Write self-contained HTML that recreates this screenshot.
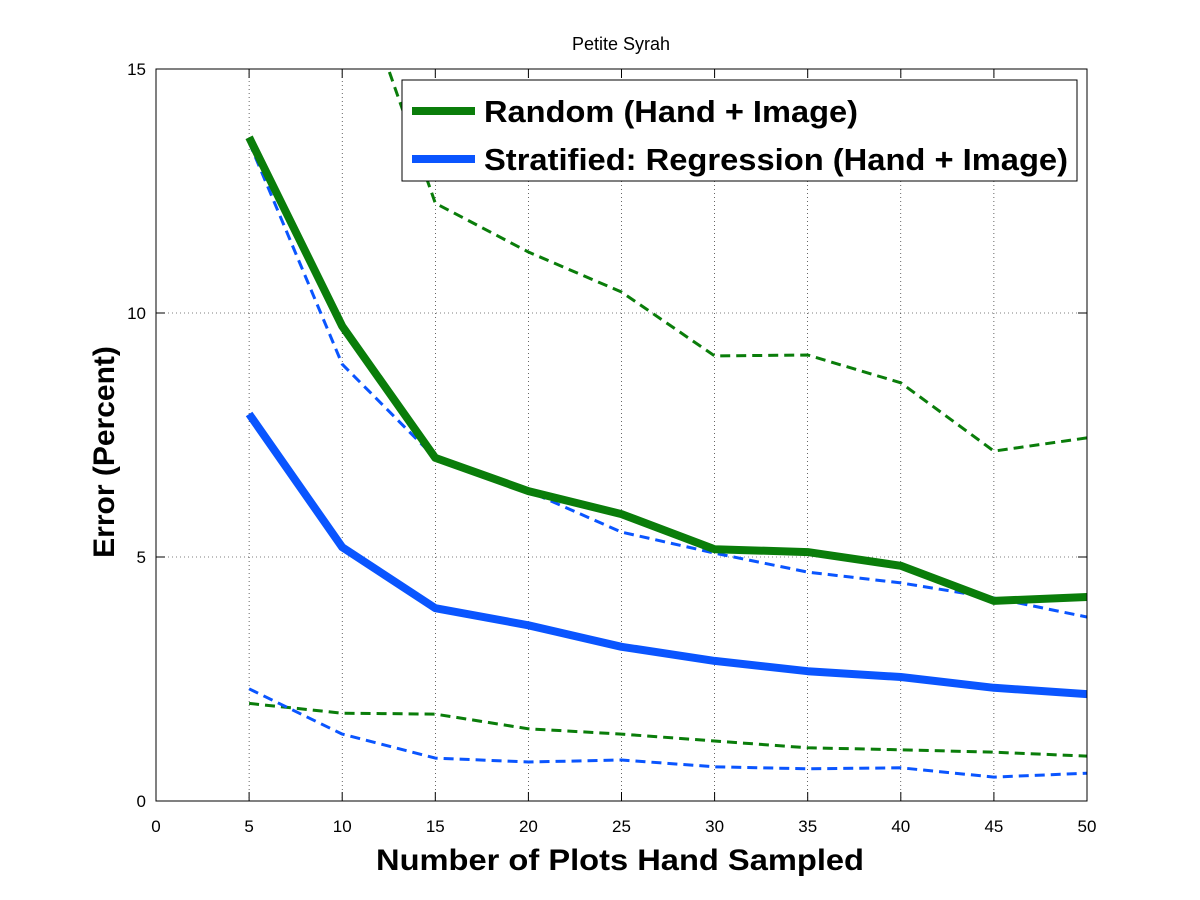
<!DOCTYPE html>
<html><head><meta charset="utf-8"><style>
html,body{margin:0;padding:0;background:#fff;}
svg{display:block;font-family:"Liberation Sans",sans-serif;}
</style></head><body>
<svg id="chart" width="1200" height="900">
<defs><clipPath id="plotclip"><rect x="156" y="69" width="931" height="732"/></clipPath></defs>
<rect x="0" y="0" width="1200" height="900" fill="#fff"/>
<text x="621" y="50" text-anchor="middle" font-size="18">Petite Syrah</text>
<g id="grid"></g>
<g id="series" clip-path="url(#plotclip)"></g>
<rect x="156" y="69" width="931" height="732" fill="none" stroke="#000" stroke-width="1"/>
<g id="ticks"></g>
<text x="376" y="870" textLength="488" lengthAdjust="spacingAndGlyphs" font-size="30" font-weight="bold">Number of Plots Hand Sampled</text>
<text transform="translate(114,452) rotate(-90)" text-anchor="middle" font-size="30" font-weight="bold">Error (Percent)</text>
<g>
<rect x="402" y="80" width="675" height="101" fill="#fff" stroke="#000" stroke-width="1"/>
<line x1="412" y1="111" x2="475" y2="111" stroke="#0a7d0a" stroke-width="8"/>
<text x="484" y="122" textLength="374" lengthAdjust="spacingAndGlyphs" font-size="31" font-weight="bold">Random (Hand + Image)</text>
<line x1="412" y1="159" x2="475" y2="159" stroke="#0a55ff" stroke-width="8"/>
<text x="484" y="170" textLength="584" lengthAdjust="spacingAndGlyphs" font-size="31" font-weight="bold">Stratified: Regression (Hand + Image)</text>
</g>
</svg>
<script>
const xCats=[5,10,15,20,25,30,35,40,45,50];
const randomMean=[13.6,9.73,7.03,6.35,5.88,5.16,5.10,4.82,4.10,4.18];
const randomUpper=[24,17.7,12.25,11.25,10.43,9.12,9.14,8.57,7.17,7.44];
const randomLower=[2.0,1.8,1.78,1.48,1.37,1.23,1.09,1.05,1.0,0.92];
const stratMean=[7.93,5.2,3.95,3.6,3.16,2.87,2.66,2.54,2.32,2.19];
const stratUpper=[13.5,8.95,7.03,6.35,5.51,5.08,4.69,4.47,4.16,3.77];
const stratLower=[2.3,1.37,0.88,0.8,0.84,0.7,0.66,0.68,0.49,0.57];
const xTicks=[0,5,10,15,20,25,30,35,40,45,50];
const yTicks=[0,5,10,15];

const NS="http://www.w3.org/2000/svg";
const X0=156,X1=1087,Y0=801,Y1=69;
const xs=v=>X0+(v-0)/50*(X1-X0);
const ys=v=>Y0-(v-0)/15*(Y0-Y1);
function mk(t,a,p){const e=document.createElementNS(NS,t);for(const k in a)e.setAttribute(k,a[k]);p.appendChild(e);return e;}
const grid=document.getElementById('grid'),ticks=document.getElementById('ticks'),series=document.getElementById('series');
xTicks.forEach(v=>{
  const x=xs(v);
  if(v>0&&v<50){const g=mk('line',{x1:x,y1:Y1,x2:x,y2:Y0,stroke:'#000','stroke-width':0.6,'stroke-dasharray':'1,3'},grid);
  
  }
  const t1=mk('line',{x1:x,y1:Y0,x2:x,y2:Y0-9,stroke:'#000'},ticks);
  
  
  const t2=mk('line',{x1:x,y1:Y1,x2:x,y2:Y1+9,stroke:'#000'},ticks);
  
  
  const l=mk('text',{x:x,y:Y0+31,'text-anchor':'middle','font-size':17},ticks);l.textContent=v;
  
  
});
yTicks.forEach(v=>{
  const y=ys(v);
  if(v>0&&v<15){const g=mk('line',{x1:X0,y1:y,x2:X1,y2:y,stroke:'#000','stroke-width':0.6,'stroke-dasharray':'1,3'},grid);
  
  }
  const t1=mk('line',{x1:X0,y1:y,x2:X0+9,y2:y,stroke:'#000'},ticks);
  
  
  const t2=mk('line',{x1:X1,y1:y,x2:X1-9,y2:y,stroke:'#000'},ticks);
  
  
  const l=mk('text',{x:X0-10,y:y+6,'text-anchor':'end','font-size':17},ticks);l.textContent=v;
  
  
});
function line(vals,color,w,dash,name){
  const pts=vals.map((v,i)=>xs(xCats[i]).toFixed(1)+','+ys(v).toFixed(1)).join(' ');
  const a={points:pts,fill:'none',stroke:color,'stroke-width':w,'stroke-linejoin':'round'};
  if(dash)a['stroke-dasharray']=dash;
  const p=mk('polyline',a,series);
  
  
}
const G='#0a7d0a',B='#0a55ff';
line(randomUpper,G,3,'10,6','random-upper-line');
line(randomLower,G,3,'10,6','random-lower-line');
line(stratUpper,B,3,'10,6','stratified-upper-line');
line(stratLower,B,3,'10,6','stratified-lower-line');
line(randomMean,G,8,null,'random-mean-line');
line(stratMean,B,8,null,'stratified-mean-line');
</script>
</body></html>
